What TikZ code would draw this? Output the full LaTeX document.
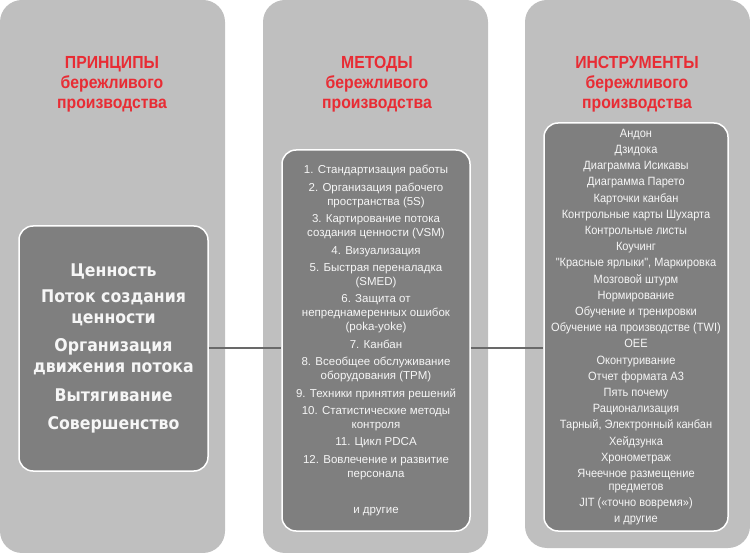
\documentclass[tikz,border=0pt]{standalone}
\usepackage{fontspec}
\setmainfont{Liberation Sans}
\newfontfamily\headfont[FakeStretch=0.9]{Liberation Sans}
\newfontfamily\valuefont[FakeStretch=0.9]{DejaVu Sans}
\newfontfamily\toolfont[FakeStretch=0.92]{Liberation Sans}
\usetikzlibrary{calc}
\usetikzlibrary{positioning}

\definecolor{panelgray}{RGB}{191,191,191}
\definecolor{boxgray}{RGB}{127,127,127}
\definecolor{headred}{RGB}{232,44,52}
\definecolor{linegray}{RGB}{105,105,105}
\definecolor{textwhite}{RGB}{246,246,246}

\begin{document}
\begin{tikzpicture}[x=1pt,y=-1pt,
    panel/.style={fill=panelgray,rounded corners=22pt,minimum width=225pt,inner sep=0pt},
    listbox/.style={fill=boxgray,draw=white,line width=1.5pt,rounded corners=14pt,
      align=center,text=textwhite,inner sep=0pt},
    heading/.style={text=headred,align=center,font=\headfont\bfseries\fontsize{17.5}{20}\selectfont}]

  \useasboundingbox (0,0) rectangle (750,553);

  % three columns
  \node [panel,minimum height=553pt] (P_panel) at (112.5,276.5) {};
  \node [panel,minimum height=553pt] (M_panel) at (375.5,276.5) {};
  \node [panel,minimum height=548pt] (I_panel) at (637.5,274) {};

  \node [heading] (P_head) at (112,84) {ПРИНЦИПЫ\\бережливого\\производства};
  \node [heading] (M_head) at (377,84) {МЕТОДЫ\\бережливого\\производства};
  \node [heading] (I_head) at (637,84) {ИНСТРУМЕНТЫ\\бережливого\\производства};

  % principles
  \node [listbox,minimum width=189pt,minimum height=245pt,
         font=\valuefont\bfseries\fontsize{17.5}{21}\selectfont] (P_box) at (113.5,348.5) {
    Ценность\\[5pt]
    Поток создания\\ценности\\[7.5pt]
    Организация\\движения потока\\[7.5pt]
    Вытягивание\\[7.5pt]
    Совершенство};

  % methods
  \node [listbox,minimum width=188pt,minimum height=381pt,
         font=\fontsize{11.5}{14}\selectfont] (M_box) at (376,340.5) {
    1. Стандартизация работы\\[3.4pt]
    2. Организация рабочего\\пространства (5S)\\[3.4pt]
    3. Картирование потока\\создания ценности (VSM)\\[3.4pt]
    4. Визуализация\\[3.4pt]
    5. Быстрая переналадка\\(SMED)\\[3.4pt]
    6. Защита от\\непреднамеренных ошибок\\(poka-yoke)\\[3.4pt]
    7. Канбан\\[3.4pt]
    8. Всеобщее обслуживание\\оборудования (TPM)\\[3.4pt]
    9. Техники принятия решений\\[3.4pt]
    10. Статистические методы\\контроля\\[3.4pt]
    11. Цикл PDCA\\[3.4pt]
    12. Вовлечение и развитие\\персонала\\[22pt]
    и другие};

  % tools
  \node [listbox,minimum width=184pt,minimum height=408pt,
         font=\toolfont\fontsize{12}{12.5}\selectfont] (I_box) at (636,327) {
    Андон\\[3.7pt]
    Дзидока\\[3.7pt]
    Диаграмма Исикавы\\[3.7pt]
    Диаграмма Парето\\[3.7pt]
    Карточки канбан\\[3.7pt]
    Контрольные карты Шухарта\\[3.7pt]
    Контрольные листы\\[3.7pt]
    Коучинг\\[3.7pt]
    "Красные ярлыки", Маркировка\\[3.7pt]
    Мозговой штурм\\[3.7pt]
    Нормирование\\[3.7pt]
    Обучение и тренировки\\[3.7pt]
    Обучение на производстве (TWI)\\[3.7pt]
    OEE\\[3.7pt]
    Оконтуривание\\[3.7pt]
    Отчет формата А3\\[3.7pt]
    Пять почему\\[3.7pt]
    Рационализация\\[3.7pt]
    Тарный, Электронный канбан\\[3.7pt]
    Хейдзунка\\[3.7pt]
    Хронометраж\\[3.7pt]
    Ячеечное размещение\\предметов\\[3.7pt]
    JIT («точно вовремя»)\\[3.7pt]
    и другие};

  \path [draw,line width=2pt,linegray]
    (P_box.east)             edge (P_box.east -| M_box.west)
    (M_box.east |- P_box.east) edge (I_box.west |- P_box.east);

\end{tikzpicture}
\end{document}
